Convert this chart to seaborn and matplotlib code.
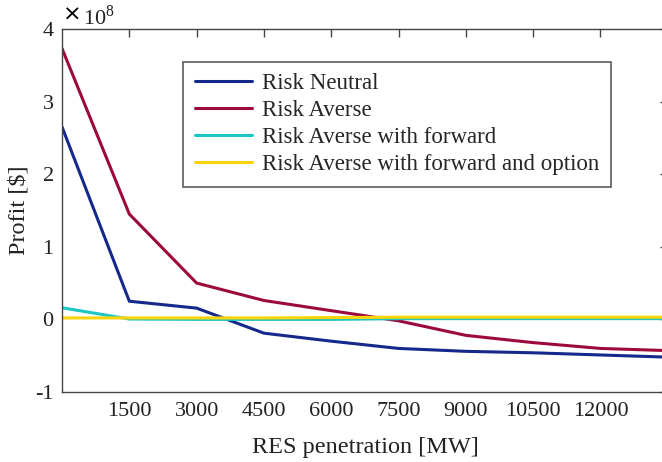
import matplotlib
matplotlib.use("Agg")
import matplotlib.pyplot as plt
import seaborn as sns
import pandas as pd
from matplotlib.ticker import FuncFormatter, FixedLocator

# RES penetration levels [MW]
res_mw = [0, 1500, 3000, 4500, 6000, 7500, 9000, 10500, 12000, 13500]

# Profit per strategy, in units of 1e8 $
risk_neutral = [2.65, 0.25, 0.155, -0.19, -0.30, -0.40, -0.44, -0.46, -0.49, -0.52]
risk_averse = [3.73, 1.45, 0.50, 0.26, 0.12, -0.02, -0.22, -0.32, -0.40, -0.43]
averse_forward = [0.16, 0.005, 0.0, 0.0, 0.0, 0.01, 0.01, 0.01, 0.01, 0.01]
averse_forward_option = [0.02, 0.02, 0.02, 0.02, 0.025, 0.03, 0.03, 0.03, 0.03, 0.03]

SCALE = 1e8
series = {
    "Risk Neutral": risk_neutral,
    "Risk Averse": risk_averse,
    "Risk Averse with forward": averse_forward,
    "Risk Averse with forward and option": averse_forward_option,
}
colors = ["#15288c", "#9c0a3d", "#1cc6c4", "#fdd40a"]
x_ticks = [1500, 3000, 4500, 6000, 7500, 9000, 10500, 12000]
y_ticks = [-1, 0, 1, 2, 3, 4]

rows = []
for name, vals in series.items():
    for x, v in zip(res_mw, vals):
        rows.append({"RES": x, "Profit": v * SCALE, "Strategy": name})
df = pd.DataFrame(rows)

sns.set_theme(style="white")
plt.rcParams["font.family"] = ["Liberation Serif", "DejaVu Serif"]
plt.rcParams["mathtext.fontset"] = "custom"
plt.rcParams["mathtext.rm"] = "Liberation Serif"
plt.rcParams["axes.unicode_minus"] = False

fig = plt.figure(figsize=(6.62, 4.62), dpi=100)
ax = fig.add_axes([0.0937, 0.1515, 0.915, 0.786])

sns.lineplot(data=df, x="RES", y="Profit", hue="Strategy",
             palette=colors, linewidth=2.2, ax=ax, legend=True)

ax.set_xlim(0, 13500)
ax.set_ylim(-1 * SCALE, 4 * SCALE)
ax.xaxis.set_major_locator(FixedLocator(x_ticks))
ax.yaxis.set_major_locator(FixedLocator([t * SCALE for t in y_ticks]))
ax.yaxis.set_major_formatter(FuncFormatter(lambda v, p: f"{v / SCALE:.0f}"))

for s in ax.spines.values():
    s.set_color("#444444")
    s.set_linewidth(1.0)
ax.tick_params(direction="in", length=6, width=1.0, color="#444444",
               top=True, right=True, labelsize=16, labelcolor="#222222")
ax.tick_params(axis="x", pad=7)
ax.tick_params(axis="y", pad=6)

ax.set_xlabel("RES penetration [MW]", fontsize=17.5, color="#222222", labelpad=12)
ax.set_ylabel("Profit [$]", fontsize=17.5, color="#222222", labelpad=4)

# scale factor of the y axis, drawn above its top-left corner
ax.text(0.002, 1.0386, "\u00d7", transform=ax.transAxes, family="DejaVu Sans",
        fontsize=16, ha="left", va="center", color="#000000")
ax.text(0.034, 1.012, r"$\mathrm{10}^{8}$", transform=ax.transAxes,
        fontsize=16, ha="left", va="baseline", color="#222222")

leg = ax.legend(loc="upper left", bbox_to_anchor=(0.2, 0.91), fontsize=16.5,
                frameon=True, fancybox=False, edgecolor="#333333",
                handlelength=2.5, handletextpad=0.45, borderpad=0.5,
                labelspacing=0.26, borderaxespad=0)
leg.get_frame().set_linewidth(1.2)
leg.get_frame().set_facecolor("white")

fig.savefig("out.png", dpi=100)
